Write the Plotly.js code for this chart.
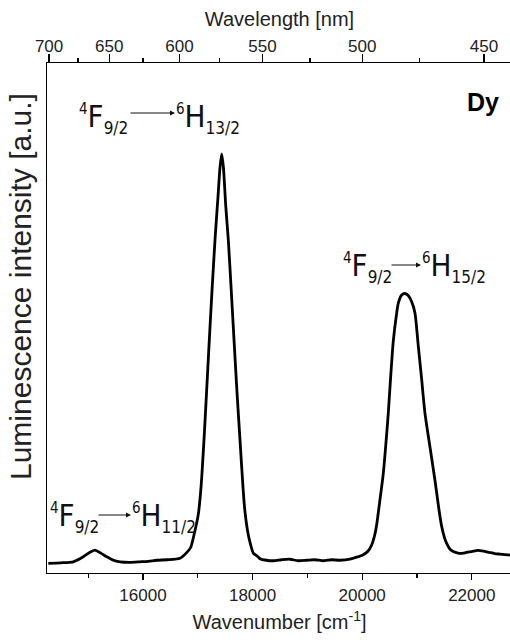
<!DOCTYPE html>
<html>
<head>
<meta charset="utf-8">
<script src="https://cdn.plot.ly/plotly-3.0.1.min.js"></script>
<style>
html,body{margin:0;padding:0;overflow:hidden;background:#fff;}
#chart{width:512px;height:642px;}
</style>
</head>
<body>
<div id="chart"></div>
<script>
// ---- data ----
var wavenumber = [14272,14500,14728,14911,15020,15124,15230,15338,15460,15580,15760,15945,16100,16250,16450,16675,
  16797,16870,16931,17009,17060,17113,17160,17210,17260,17314,17370,17405,17436,17468,17510,17557,17610,17661,17715,17770,
  17830,17861,17921,17965,18013,18099,18135,18250,18378,18530,18682,18830,18987,19140,19290,19440,19595,19777,19900,20020,
  20100,20173,20230,20265,20320,20385,20430,20476,20520,20567,20630,20659,20720,20781,20840,20903,20963,21024,21085,21146,
  21240,21328,21400,21451,21500,21542,21600,21662,21750,21845,21920,21998,22080,22150,22250,22332,22420,22515,22600,22697,22740];
var intensity = [1.9,2.0,2.2,3.2,4.0,4.5,3.9,3.2,2.5,2.2,2.1,2.2,2.3,2.5,2.6,2.9,
  4.0,5.0,7.5,11.5,17,26.1,35.5,45.7,55.5,65.3,74,79.5,82.2,79.5,72,65.3,55.5,45.7,35.5,26.1,
  16,12,7.5,5.5,3.9,3.2,2.8,2.5,2.4,2.6,2.7,2.4,2.5,2.6,2.4,2.6,2.5,2.7,3.1,3.6,
  4.2,5.5,7.5,9.5,14,19.5,25,31.3,38.5,45.4,51,52.9,54.5,54.8,54.4,53.2,51,44.5,38,31.3,
  24.5,18.2,12.5,9.1,7,5.8,4.7,4.2,3.9,3.9,4.1,4.2,4.4,4.4,4.2,4.0,3.8,3.7,3.6,3.5,3.5];
var wavenumberTicks = [16000,18000,20000,22000];
var wavelengthTicks = [700,650,600,550,500,450];
var wavelengthMinor = [675,625,575,525,475];
var transitionFrom = [["4","F","9/2"],["4","F","9/2"],["4","F","9/2"]];
var transitionTo = [["6","H","13/2"],["6","H","15/2"],["6","H","11/2"]];
var sampleLabel = "Dy";
var yTitle = "Luminescence intensity [a.u.]";

// ---- layout geometry ----
var W = 512, H = 642, L = 47, T = 63, B = 69, R = 0;
var pw = W - L - R, ph = H - T - B;
function px(x){ return (x - L) / pw; }
function py(y){ return (H - B - y) / ph; }
var FONT = "Liberation Sans, Arial, Helvetica, sans-serif";
var NARROW = "Liberation Sans Narrow, DejaVu Sans Condensed, Arial Narrow, Liberation Sans, sans-serif";

function term(parts){
  return '<sup><span style="font-size:15px">'+parts[0]+'</span></sup>'+parts[1]+
         '<sub><span style="font-size:17px">'+parts[2]+'</span></sub>';
}

// label placements (pixel positions in the picture)
var labelPos = [
  {fx:77, tx:174, y:118, a0:129, a1:175, ay:113},
  {fx:341, tx:420, y:267, a0:390, a1:421, ay:265},
  {fx:48, tx:130, y:517, a0:97, a1:131, ay:515}
];

var annotations = [];
for (var i = 0; i < labelPos.length; i++){
  var p = labelPos[i];
  annotations.push({xref:'paper',yref:'paper',x:px(p.fx),y:py(p.y),xanchor:'left',yanchor:'middle',
    text:term(transitionFrom[i]),showarrow:false,font:{family:NARROW,size:31,color:'#111'}});
  annotations.push({xref:'paper',yref:'paper',x:px(p.tx),y:py(p.y),xanchor:'left',yanchor:'middle',
    text:term(transitionTo[i]),showarrow:false,font:{family:NARROW,size:31,color:'#111'}});
  annotations.push({xref:'paper',yref:'paper',x:px(p.a1),y:py(p.ay),ax:px(p.a0),ay:py(p.ay),
    axref:'paper',ayref:'paper',text:'',showarrow:true,arrowhead:2,arrowsize:1,arrowwidth:1,arrowcolor:'#111'});
}
annotations.push({xref:'paper',yref:'paper',x:px(465),y:py(102),xanchor:'left',yanchor:'middle',
  text:'<b>'+sampleLabel+'</b>',showarrow:false,font:{family:FONT,size:25,color:'#000'}});
annotations.push({xref:'paper',yref:'paper',x:px(20),y:py(287),xanchor:'center',yanchor:'middle',textangle:-90,
  text:yTitle,showarrow:false,font:{family:FONT,size:30,color:'#222'}});

var xr = [14248, 22734];

var traces = [
  {x:wavenumber, y:intensity, mode:'lines', line:{color:'#000', width:2.8, shape:'spline', smoothing:0.6}, hoverinfo:'skip', xaxis:'x', yaxis:'y'},
  {x:wavenumber, y:intensity, mode:'lines', line:{color:'rgba(0,0,0,0)', width:0}, hoverinfo:'skip', xaxis:'x2', yaxis:'y'}
];

var layout = {
  width: W, height: H,
  margin:{l:L, r:R, t:T, b:B, pad:0},
  paper_bgcolor:'#fff', plot_bgcolor:'#fff',
  showlegend:false,
  font:{family:FONT, color:'#222'},
  xaxis:{
    range:xr, showgrid:false, zeroline:false, showline:true, linecolor:'#000', linewidth:1.4,
    tickmode:'array', tickvals:wavenumberTicks, ticktext:wavenumberTicks.map(String),
    ticks:'outside', ticklen:6, tickwidth:1.2, tickcolor:'#000',
    minor:{tickmode:'linear', tick0:15000, dtick:2000, ticks:'outside', ticklen:4, tickwidth:1.2, tickcolor:'#000', showgrid:false},
    tickfont:{family:FONT, size:17, color:'#222'},
    title:{text:'Wavenumber [cm<sup>-1</sup>]', font:{family:FONT, size:20, color:'#222'}, standoff:11}
  },
  xaxis2:{
    overlaying:'x', side:'top', anchor:'y',
    range:xr, showgrid:false, zeroline:false, showline:true, linecolor:'#000', linewidth:1.4,
    tickmode:'array', tickvals:wavelengthTicks.map(function(l){return 1e7/l;}), ticktext:wavelengthTicks.map(String),
    ticks:'outside', ticklen:8, tickwidth:1.2, tickcolor:'#000', ticklabelstandoff:-5,
    minor:{tickmode:'array', tickvals:wavelengthMinor.map(function(l){return 1e7/l;}), ticks:'outside', ticklen:4, tickwidth:1.2, tickcolor:'#000', showgrid:false},
    tickfont:{family:FONT, size:17, color:'#222'},
    title:{text:'Wavelength [nm]', font:{family:FONT, size:20, color:'#222'}, standoff:4}
  },
  yaxis:{
    range:[0,100], showgrid:false, zeroline:false, showline:true, linecolor:'#000', linewidth:1.4,
    ticks:'', showticklabels:false
  },
  annotations: annotations
};

Plotly.newPlot('chart', traces, layout, {displayModeBar:false, staticPlot:true});
</script>
</body>
</html>
